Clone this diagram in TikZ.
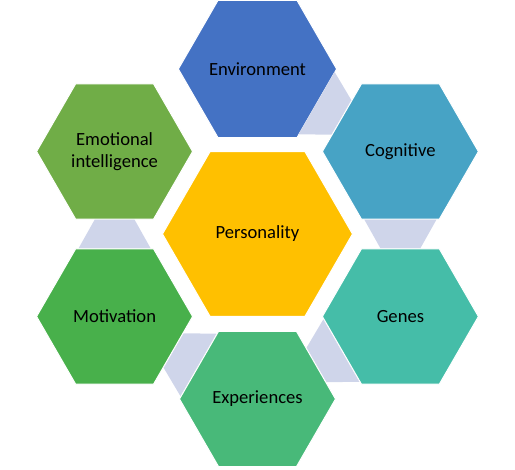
\documentclass[tikz,border=0pt]{standalone}
\usepackage{fontspec}
\setsansfont{Carlito}
\usetikzlibrary{shapes,positioning,calc}

\definecolor{envblue}{HTML}{4472C4}
\definecolor{cogblue}{HTML}{47A3C5}
\definecolor{genteal}{HTML}{45BDA8}
\definecolor{expgreen}{HTML}{48B979}
\definecolor{motgreen}{HTML}{48B04B}
\definecolor{emogreen}{HTML}{70AD47}
\definecolor{persyellow}{HTML}{FFC000}
\definecolor{linklav}{HTML}{CFD5EA}

\begin{document}
\begin{tikzpicture}[
    x=1pt, y=-1pt,
    hexa/.style={regular polygon, regular polygon sides=6, minimum size=156pt, inner sep=0pt, draw=white, line width=1pt, align=center, font=\sffamily\fontsize{18.6}{21.5}\selectfont},
    core/.style={hexa, minimum size=190pt, fill=persyellow},
    link/.style={fill=linklav},
]
\useasboundingbox (0,0) rectangle (515,470);

% Centre
\node[core] (pers) at (257.5, 234) {Personality};

% Ring
\node[hexa, fill=envblue] (env) at (257.5, 69) {Environment};
\node[hexa, fill=cogblue] (cog) at (400.4, 151.5) {Cognitive};
\node[hexa, fill=genteal] (gen) at (400.4, 316.5) {Genes};
\node[hexa, fill=expgreen] (exp) at (257.5, 399) {Experiences};
\node[hexa, fill=motgreen] (mot) at (114.6, 316.5) {Motivation};
\node[hexa, fill=emogreen] (emo) at (114.6, 151.5) {Emotional\\intelligence};

% Links between neighbours
\foreach \a/\b in {env/cog, cog/gen, gen/exp, exp/mot, mot/emo}
  \fill[link] ($(\a.center)!0.5!(\b.center)!14.25pt!(\a.center)!36pt!90:(\a.center)$)
    -- ($(\a.center)!0.5!(\b.center)!14.25pt!(\a.center)!36pt!-90:(\a.center)$)
    -- ($(\a.center)!0.5!(\b.center)!14.25pt!(\b.center)!20pt!90:(\b.center)$)
    -- ($(\a.center)!0.5!(\b.center)!14.25pt!(\b.center)!20pt!-90:(\b.center)$)
    -- cycle;

\end{tikzpicture}
\end{document}
